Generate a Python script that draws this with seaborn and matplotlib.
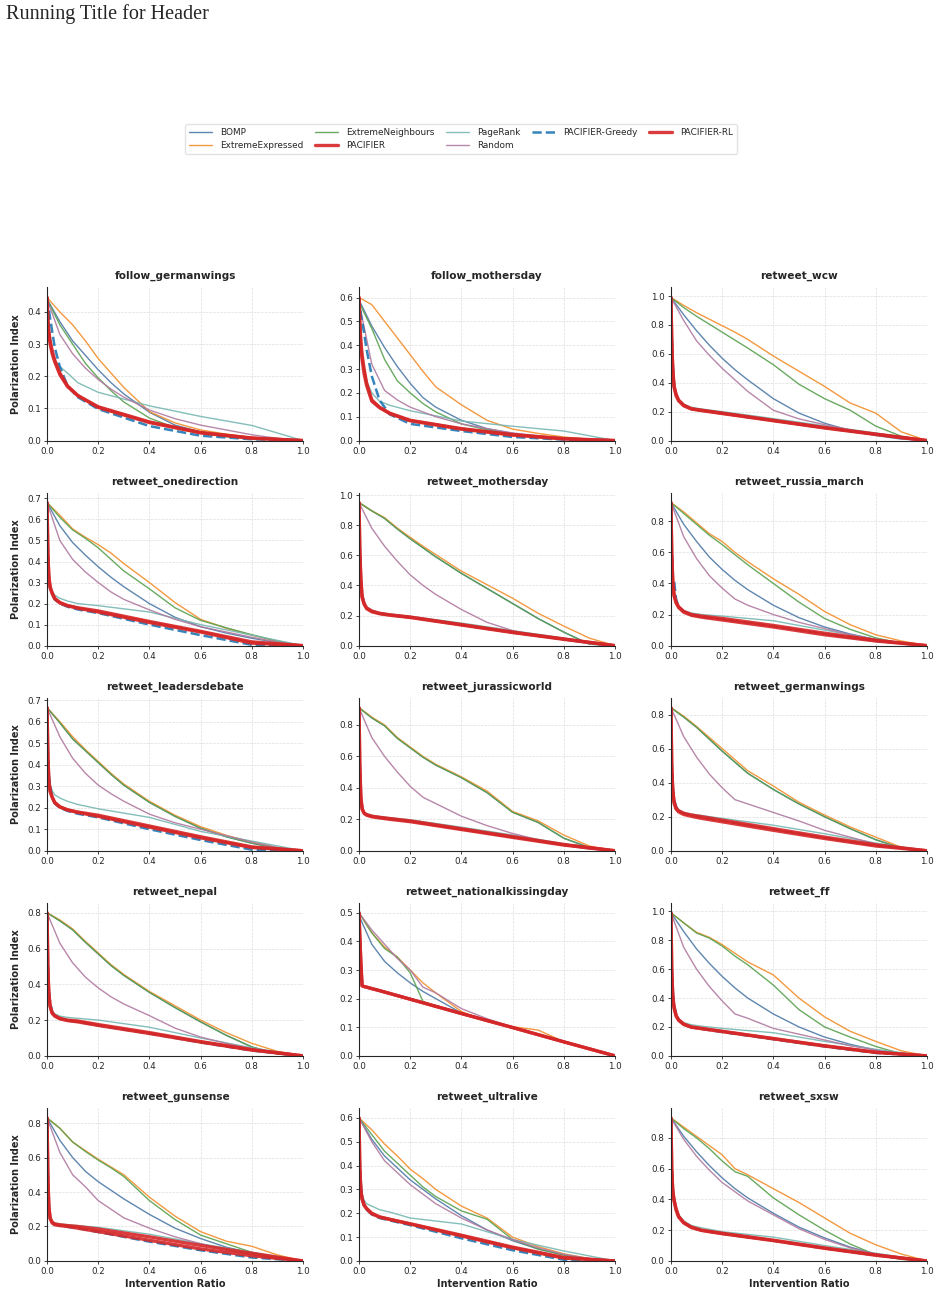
import matplotlib
matplotlib.use("Agg")
import matplotlib.pyplot as plt
import seaborn as sns

# x grids: baselines on a regular grid, PACIFIER variants / PageRank need fine steps near 0
X_BASE = [0, 0.05, 0.1, 0.15, 0.2, 0.25, 0.3, 0.4, 0.5, 0.6, 0.7, 0.8, 0.9, 1.0]
X_PAC = [0, 0.003, 0.007, 0.012, 0.02, 0.03, 0.05, 0.08, 0.12, 0.2, 0.4, 0.6, 0.8, 1.0]

DATASETS = [
    "follow_germanwings", "follow_mothersday", "retweet_wcw",
    "retweet_onedirection", "retweet_mothersday", "retweet_russia_march",
    "retweet_leadersdebate", "retweet_jurassicworld", "retweet_germanwings",
    "retweet_nepal", "retweet_nationalkissingday", "retweet_ff",
    "retweet_gunsense", "retweet_ultralive", "retweet_sxsw",
]

BOMP = [
    [0.44, 0.37, 0.31, 0.265, 0.22, 0.18, 0.145, 0.088, 0.048, 0.027, 0.015, 0.008, 0.003, 0],
    [0.59, 0.48, 0.39, 0.31, 0.24, 0.18, 0.14, 0.085, 0.05, 0.03, 0.017, 0.008, 0.003, 0],
    [0.99, 0.87, 0.76, 0.66, 0.57, 0.49, 0.42, 0.29, 0.19, 0.12, 0.07, 0.035, 0.01, 0],
    [0.68, 0.57, 0.49, 0.43, 0.375, 0.325, 0.28, 0.2, 0.135, 0.09, 0.06, 0.035, 0.015, 0],
    [0.95, 0.895, 0.845, 0.775, 0.71, 0.65, 0.59, 0.48, 0.38, 0.28, 0.18, 0.09, 0.01, 0],
    [0.92, 0.78, 0.67, 0.57, 0.49, 0.42, 0.36, 0.26, 0.18, 0.12, 0.075, 0.04, 0.015, 0],
    [0.665, 0.595, 0.52, 0.465, 0.41, 0.355, 0.305, 0.225, 0.16, 0.105, 0.065, 0.035, 0.012, 0],
    [0.91, 0.845, 0.795, 0.715, 0.655, 0.595, 0.545, 0.465, 0.37, 0.245, 0.18, 0.08, 0.02, 0],
    [0.84, 0.785, 0.725, 0.655, 0.585, 0.52, 0.455, 0.36, 0.275, 0.2, 0.13, 0.065, 0.015, 0],
    [0.80, 0.755, 0.705, 0.635, 0.57, 0.505, 0.45, 0.355, 0.27, 0.19, 0.115, 0.05, 0.01, 0],
    [0.49, 0.39, 0.33, 0.29, 0.255, 0.225, 0.2, 0.15, 0.125, 0.1, 0.075, 0.05, 0.025, 0],
    [0.99, 0.86, 0.74, 0.64, 0.55, 0.47, 0.4, 0.29, 0.2, 0.13, 0.08, 0.04, 0.012, 0],
    [0.83, 0.7, 0.6, 0.52, 0.46, 0.41, 0.36, 0.27, 0.19, 0.13, 0.08, 0.045, 0.015, 0],
    [0.6, 0.51, 0.44, 0.39, 0.34, 0.3, 0.26, 0.19, 0.13, 0.085, 0.05, 0.025, 0.008, 0],
    [0.93, 0.81, 0.71, 0.62, 0.54, 0.47, 0.41, 0.31, 0.22, 0.15, 0.09, 0.045, 0.015, 0],
]

EXTREME_EXPRESSED = [
    [0.445, 0.40, 0.36, 0.31, 0.255, 0.21, 0.165, 0.09, 0.055, 0.033, 0.02, 0.01, 0.004, 0],
    [0.6, 0.57, 0.5, 0.43, 0.36, 0.29, 0.225, 0.15, 0.085, 0.048, 0.03, 0.015, 0.005, 0],
    [0.99, 0.935, 0.885, 0.84, 0.795, 0.75, 0.70, 0.585, 0.48, 0.375, 0.26, 0.19, 0.06, 0],
    [0.68, 0.62, 0.555, 0.515, 0.48, 0.44, 0.39, 0.30, 0.205, 0.125, 0.083, 0.05, 0.02, 0],
    [0.95, 0.895, 0.85, 0.78, 0.72, 0.66, 0.605, 0.495, 0.405, 0.315, 0.215, 0.13, 0.05, 0],
    [0.92, 0.86, 0.79, 0.72, 0.67, 0.6, 0.54, 0.43, 0.33, 0.22, 0.135, 0.07, 0.03, 0],
    [0.665, 0.60, 0.53, 0.47, 0.415, 0.36, 0.31, 0.23, 0.165, 0.112, 0.072, 0.04, 0.015, 0],
    [0.91, 0.85, 0.80, 0.72, 0.66, 0.6, 0.55, 0.47, 0.38, 0.25, 0.19, 0.1, 0.03, 0],
    [0.84, 0.79, 0.73, 0.665, 0.6, 0.535, 0.47, 0.38, 0.285, 0.21, 0.14, 0.08, 0.02, 0],
    [0.80, 0.76, 0.71, 0.64, 0.575, 0.51, 0.455, 0.36, 0.28, 0.2, 0.13, 0.07, 0.025, 0],
    [0.5, 0.43, 0.38, 0.345, 0.30, 0.255, 0.22, 0.155, 0.12, 0.102, 0.09, 0.05, 0.025, 0],
    [0.99, 0.92, 0.855, 0.82, 0.77, 0.71, 0.65, 0.56, 0.40, 0.27, 0.17, 0.1, 0.035, 0],
    [0.83, 0.77, 0.69, 0.64, 0.59, 0.545, 0.5, 0.37, 0.26, 0.17, 0.115, 0.085, 0.035, 0],
    [0.6, 0.55, 0.49, 0.44, 0.385, 0.345, 0.3, 0.23, 0.18, 0.1, 0.06, 0.03, 0.01, 0],
    [0.93, 0.87, 0.81, 0.75, 0.69, 0.6, 0.56, 0.47, 0.38, 0.28, 0.18, 0.105, 0.045, 0],
]

EXTREME_NEIGHBOURS = [
    [0.44, 0.36, 0.30, 0.24, 0.195, 0.155, 0.12, 0.07, 0.04, 0.022, 0.012, 0.006, 0.002, 0],
    [0.58, 0.47, 0.34, 0.25, 0.20, 0.155, 0.12, 0.07, 0.045, 0.028, 0.015, 0.007, 0.002, 0],
    [0.99, 0.92, 0.86, 0.805, 0.75, 0.695, 0.64, 0.525, 0.39, 0.29, 0.21, 0.1, 0.03, 0],
    [0.68, 0.61, 0.55, 0.51, 0.465, 0.41, 0.355, 0.27, 0.18, 0.12, 0.085, 0.052, 0.022, 0],
    [0.95, 0.895, 0.845, 0.775, 0.71, 0.65, 0.59, 0.48, 0.38, 0.28, 0.18, 0.09, 0.01, 0],
    [0.92, 0.85, 0.78, 0.71, 0.65, 0.585, 0.52, 0.40, 0.28, 0.175, 0.105, 0.05, 0.015, 0],
    [0.665, 0.595, 0.52, 0.465, 0.41, 0.355, 0.305, 0.225, 0.16, 0.105, 0.065, 0.035, 0.012, 0],
    [0.91, 0.845, 0.795, 0.715, 0.655, 0.595, 0.545, 0.465, 0.37, 0.245, 0.18, 0.08, 0.02, 0],
    [0.84, 0.785, 0.725, 0.655, 0.585, 0.52, 0.455, 0.36, 0.275, 0.2, 0.13, 0.065, 0.015, 0],
    [0.80, 0.755, 0.705, 0.635, 0.57, 0.505, 0.45, 0.355, 0.27, 0.19, 0.115, 0.05, 0.01, 0],
    [0.5, 0.43, 0.375, 0.345, 0.29, 0.19, 0.175, 0.15, 0.125, 0.1, 0.075, 0.05, 0.025, 0],
    [0.99, 0.92, 0.85, 0.815, 0.76, 0.69, 0.63, 0.49, 0.32, 0.2, 0.13, 0.065, 0.015, 0],
    [0.83, 0.77, 0.69, 0.635, 0.585, 0.54, 0.49, 0.35, 0.24, 0.15, 0.1, 0.05, 0.015, 0],
    [0.6, 0.53, 0.46, 0.41, 0.36, 0.31, 0.27, 0.21, 0.175, 0.09, 0.05, 0.025, 0.008, 0],
    [0.93, 0.86, 0.8, 0.73, 0.65, 0.58, 0.55, 0.41, 0.3, 0.2, 0.11, 0.04, 0.01, 0],
]

RANDOM = [
    [0.44, 0.33, 0.27, 0.225, 0.19, 0.16, 0.135, 0.095, 0.068, 0.048, 0.033, 0.018, 0.007, 0],
    [0.58, 0.32, 0.21, 0.17, 0.14, 0.12, 0.1, 0.07, 0.05, 0.032, 0.02, 0.01, 0.004, 0],
    [0.99, 0.83, 0.69, 0.59, 0.5, 0.42, 0.34, 0.21, 0.15, 0.11, 0.075, 0.04, 0.012, 0],
    [0.68, 0.5, 0.41, 0.35, 0.3, 0.255, 0.22, 0.17, 0.125, 0.09, 0.065, 0.04, 0.017, 0],
    [0.95, 0.78, 0.66, 0.56, 0.47, 0.4, 0.34, 0.24, 0.155, 0.1, 0.065, 0.038, 0.013, 0],
    [0.92, 0.7, 0.56, 0.45, 0.37, 0.3, 0.26, 0.2, 0.15, 0.11, 0.07, 0.04, 0.015, 0],
    [0.665, 0.53, 0.43, 0.36, 0.305, 0.265, 0.23, 0.17, 0.13, 0.1, 0.07, 0.04, 0.015, 0],
    [0.91, 0.72, 0.6, 0.5, 0.41, 0.34, 0.3, 0.22, 0.16, 0.11, 0.07, 0.035, 0.01, 0],
    [0.84, 0.67, 0.55, 0.45, 0.37, 0.3, 0.275, 0.225, 0.175, 0.12, 0.08, 0.04, 0.012, 0],
    [0.8, 0.63, 0.52, 0.44, 0.38, 0.33, 0.29, 0.225, 0.155, 0.105, 0.07, 0.04, 0.015, 0],
    [0.5, 0.44, 0.39, 0.34, 0.3, 0.24, 0.22, 0.165, 0.13, 0.1, 0.075, 0.05, 0.025, 0],
    [0.99, 0.75, 0.6, 0.48, 0.38, 0.29, 0.26, 0.19, 0.15, 0.11, 0.07, 0.04, 0.012, 0],
    [0.83, 0.63, 0.5, 0.43, 0.35, 0.3, 0.25, 0.19, 0.14, 0.1, 0.065, 0.035, 0.012, 0],
    [0.6, 0.5, 0.42, 0.37, 0.32, 0.28, 0.24, 0.18, 0.13, 0.09, 0.055, 0.028, 0.01, 0],
    [0.93, 0.79, 0.68, 0.59, 0.51, 0.45, 0.39, 0.3, 0.21, 0.14, 0.085, 0.045, 0.015, 0],
]

PAGERANK = [
    [0.44, 0.40, 0.36, 0.32, 0.28, 0.25, 0.23, 0.21, 0.18, 0.15, 0.108, 0.075, 0.047, 0],
    [0.59, 0.5, 0.42, 0.36, 0.3, 0.25, 0.2, 0.165, 0.148, 0.125, 0.082, 0.06, 0.04, 0],
    [0.99, 0.7, 0.5, 0.38, 0.32, 0.28, 0.25, 0.23, 0.218, 0.2, 0.152, 0.102, 0.052, 0],
    [0.68, 0.45, 0.34, 0.29, 0.26, 0.24, 0.225, 0.212, 0.2, 0.19, 0.16, 0.1, 0.05, 0],
    [0.95, 0.65, 0.45, 0.33, 0.28, 0.255, 0.235, 0.22, 0.21, 0.195, 0.15, 0.1, 0.05, 0],
    [0.92, 0.6, 0.42, 0.33, 0.28, 0.25, 0.225, 0.21, 0.2, 0.19, 0.16, 0.1, 0.04, 0],
    [0.665, 0.46, 0.36, 0.31, 0.28, 0.26, 0.245, 0.23, 0.215, 0.195, 0.155, 0.09, 0.045, 0],
    [0.91, 0.55, 0.35, 0.28, 0.245, 0.235, 0.225, 0.218, 0.21, 0.197, 0.15, 0.1, 0.045, 0],
    [0.84, 0.5, 0.36, 0.29, 0.255, 0.24, 0.225, 0.215, 0.207, 0.19, 0.15, 0.1, 0.045, 0],
    [0.80, 0.5, 0.35, 0.285, 0.25, 0.235, 0.222, 0.215, 0.21, 0.2, 0.16, 0.1, 0.045, 0],
    [0.5, 0.42, 0.33, 0.25, 0.245, 0.242, 0.237, 0.23, 0.22, 0.2, 0.15, 0.1, 0.05, 0],
    [0.99, 0.6, 0.42, 0.34, 0.285, 0.255, 0.23, 0.215, 0.205, 0.19, 0.16, 0.1, 0.045, 0],
    [0.83, 0.5, 0.32, 0.255, 0.23, 0.22, 0.215, 0.21, 0.205, 0.195, 0.155, 0.1, 0.05, 0],
    [0.6, 0.42, 0.32, 0.28, 0.255, 0.24, 0.23, 0.215, 0.205, 0.18, 0.155, 0.09, 0.042, 0],
    [0.93, 0.6, 0.47, 0.41, 0.35, 0.3, 0.26, 0.23, 0.215, 0.19, 0.155, 0.1, 0.05, 0],
]

PACIFIER = [
    [0.445, 0.38, 0.34, 0.31, 0.28, 0.25, 0.21, 0.17, 0.14, 0.105, 0.058, 0.025, 0.008, 0],
    [0.6, 0.5, 0.42, 0.36, 0.3, 0.24, 0.17, 0.14, 0.115, 0.085, 0.05, 0.025, 0.008, 0],
    [0.99, 0.7, 0.5, 0.38, 0.32, 0.28, 0.245, 0.22, 0.21, 0.19, 0.14, 0.09, 0.045, 0],
    [0.68, 0.45, 0.33, 0.28, 0.25, 0.225, 0.205, 0.19, 0.178, 0.16, 0.11, 0.065, 0.012, 0],
    [0.95, 0.65, 0.45, 0.33, 0.28, 0.25, 0.23, 0.215, 0.205, 0.19, 0.14, 0.09, 0.045, 0],
    [0.92, 0.6, 0.42, 0.33, 0.28, 0.25, 0.22, 0.2, 0.19, 0.175, 0.13, 0.08, 0.035, 0],
    [0.665, 0.45, 0.33, 0.28, 0.25, 0.225, 0.205, 0.19, 0.178, 0.16, 0.11, 0.06, 0.015, 0],
    [0.91, 0.55, 0.35, 0.27, 0.24, 0.23, 0.22, 0.213, 0.205, 0.19, 0.14, 0.09, 0.04, 0],
    [0.84, 0.5, 0.36, 0.29, 0.25, 0.235, 0.22, 0.21, 0.2, 0.18, 0.13, 0.08, 0.035, 0],
    [0.8, 0.5, 0.35, 0.28, 0.24, 0.225, 0.21, 0.2, 0.195, 0.175, 0.13, 0.08, 0.035, 0],
    [0.5, 0.42, 0.33, 0.245, 0.242, 0.24, 0.235, 0.228, 0.218, 0.198, 0.148, 0.099, 0.049, 0],
    [0.99, 0.6, 0.42, 0.34, 0.28, 0.25, 0.22, 0.2, 0.19, 0.17, 0.12, 0.07, 0.025, 0],
    [0.83, 0.5, 0.32, 0.25, 0.225, 0.215, 0.21, 0.205, 0.2, 0.185, 0.14, 0.09, 0.045, 0],
    [0.6, 0.4, 0.3, 0.26, 0.235, 0.22, 0.2, 0.185, 0.175, 0.155, 0.105, 0.055, 0.012, 0],
    [0.93, 0.6, 0.46, 0.4, 0.34, 0.29, 0.25, 0.22, 0.2, 0.18, 0.135, 0.085, 0.04, 0],
]

PACIFIER_GREEDY = [
    [0.445, 0.43, 0.41, 0.38, 0.34, 0.29, 0.23, 0.17, 0.135, 0.098, 0.045, 0.015, 0.004, 0],
    [0.6, 0.57, 0.53, 0.5, 0.45, 0.38, 0.27, 0.17, 0.11, 0.07, 0.04, 0.015, 0.004, 0],
    [0.99, 0.72, 0.52, 0.39, 0.32, 0.28, 0.245, 0.22, 0.208, 0.188, 0.138, 0.088, 0.043, 0],
    [0.68, 0.47, 0.34, 0.28, 0.245, 0.22, 0.2, 0.185, 0.172, 0.155, 0.1, 0.05, 0.004, 0],
    [0.95, 0.66, 0.46, 0.34, 0.28, 0.25, 0.228, 0.213, 0.203, 0.188, 0.138, 0.088, 0.043, 0],
    [0.92, 0.62, 0.44, 0.42, 0.3, 0.25, 0.218, 0.198, 0.186, 0.17, 0.125, 0.075, 0.03, 0],
    [0.665, 0.47, 0.35, 0.3, 0.25, 0.22, 0.2, 0.185, 0.172, 0.155, 0.1, 0.05, 0.005, 0],
    [0.91, 0.56, 0.36, 0.27, 0.24, 0.228, 0.218, 0.21, 0.202, 0.187, 0.137, 0.087, 0.038, 0],
    [0.84, 0.52, 0.37, 0.3, 0.26, 0.235, 0.218, 0.207, 0.196, 0.176, 0.126, 0.076, 0.03, 0],
    [0.8, 0.52, 0.37, 0.3, 0.245, 0.225, 0.208, 0.198, 0.19, 0.17, 0.125, 0.075, 0.03, 0],
    [0.5, 0.42, 0.33, 0.245, 0.242, 0.24, 0.235, 0.228, 0.218, 0.198, 0.148, 0.099, 0.049, 0],
    [0.99, 0.62, 0.44, 0.35, 0.29, 0.25, 0.218, 0.197, 0.186, 0.165, 0.115, 0.065, 0.02, 0],
    [0.83, 0.52, 0.33, 0.25, 0.222, 0.212, 0.205, 0.198, 0.19, 0.168, 0.112, 0.062, 0.02, 0],
    [0.6, 0.42, 0.32, 0.27, 0.235, 0.215, 0.195, 0.18, 0.17, 0.15, 0.095, 0.045, 0.005, 0],
    [0.93, 0.62, 0.47, 0.4, 0.34, 0.29, 0.248, 0.218, 0.198, 0.177, 0.132, 0.082, 0.037, 0],
]

PACIFIER_RL = [
    [0.445, 0.37, 0.33, 0.30, 0.27, 0.245, 0.205, 0.168, 0.14, 0.103, 0.056, 0.024, 0.007, 0],
    [0.6, 0.48, 0.4, 0.34, 0.28, 0.23, 0.165, 0.138, 0.113, 0.083, 0.048, 0.023, 0.007, 0],
    [0.99, 0.68, 0.48, 0.37, 0.31, 0.275, 0.24, 0.218, 0.207, 0.187, 0.137, 0.087, 0.042, 0],
    [0.68, 0.44, 0.32, 0.275, 0.248, 0.223, 0.203, 0.19, 0.18, 0.165, 0.115, 0.068, 0.018, 0],
    [0.95, 0.63, 0.44, 0.32, 0.275, 0.245, 0.225, 0.212, 0.202, 0.187, 0.137, 0.087, 0.042, 0],
    [0.92, 0.58, 0.41, 0.32, 0.275, 0.245, 0.215, 0.195, 0.183, 0.165, 0.12, 0.07, 0.03, 0],
    [0.665, 0.44, 0.32, 0.275, 0.248, 0.223, 0.203, 0.19, 0.18, 0.165, 0.115, 0.065, 0.018, 0],
    [0.91, 0.54, 0.34, 0.265, 0.237, 0.226, 0.216, 0.209, 0.2, 0.185, 0.135, 0.085, 0.036, 0],
    [0.84, 0.49, 0.35, 0.28, 0.245, 0.228, 0.213, 0.202, 0.19, 0.17, 0.12, 0.072, 0.028, 0],
    [0.8, 0.49, 0.34, 0.275, 0.238, 0.222, 0.207, 0.197, 0.19, 0.17, 0.125, 0.077, 0.032, 0],
    [0.5, 0.42, 0.33, 0.245, 0.242, 0.24, 0.235, 0.228, 0.218, 0.198, 0.148, 0.099, 0.049, 0],
    [0.99, 0.58, 0.41, 0.33, 0.275, 0.245, 0.217, 0.198, 0.188, 0.168, 0.118, 0.068, 0.024, 0],
    [0.83, 0.49, 0.31, 0.245, 0.22, 0.21, 0.205, 0.2, 0.19, 0.17, 0.12, 0.07, 0.03, 0],
    [0.6, 0.39, 0.3, 0.26, 0.233, 0.218, 0.198, 0.184, 0.174, 0.156, 0.108, 0.058, 0.015, 0],
    [0.93, 0.59, 0.45, 0.39, 0.33, 0.285, 0.247, 0.217, 0.198, 0.177, 0.132, 0.082, 0.037, 0],
]

# (label, data, x grid, colour, linewidth, linestyle) in drawing order
SERIES = [
    ("BOMP", BOMP, X_BASE, "#4e79a7", 1.0, "-"),
    ("ExtremeExpressed", EXTREME_EXPRESSED, X_BASE, "#f28e2b", 1.0, "-"),
    ("ExtremeNeighbours", EXTREME_NEIGHBOURS, X_BASE, "#59a14f", 1.0, "-"),
    ("PageRank", PAGERANK, X_PAC, "#76b7b2", 1.0, "-"),
    ("Random", RANDOM, X_BASE, "#b07aa1", 1.0, "-"),
    ("PACIFIER-Greedy", PACIFIER_GREEDY, X_PAC, "#1f77b4", 1.8, "--"),
    ("PACIFIER", PACIFIER, X_PAC, "#d62728", 2.4, "-"),
    ("PACIFIER-RL", PACIFIER_RL, X_PAC, "#d62728", 2.4, "-"),
]
LEGEND_ORDER = ["BOMP", "ExtremeExpressed", "ExtremeNeighbours", "PACIFIER",
                "PageRank", "Random", "PACIFIER-Greedy", "PACIFIER-RL"]

sns.set_style("ticks")
plt.rcParams["font.family"] = ["DejaVu Sans"]

fig, axes = plt.subplots(5, 3, figsize=(9.41, 12.95), dpi=100)
fig.subplots_adjust(left=0.05, right=0.985, bottom=0.0263, top=0.778,
                    wspace=0.219, hspace=0.34)

handles = {}
for i, name in enumerate(DATASETS):
    ax = axes.flat[i]
    for label, data, xs, color, lw, ls in SERIES:
        sns.lineplot(x=xs, y=data[i], ax=ax, color=color, linewidth=lw,
                     linestyle=ls, alpha=0.9, label=label, legend=False)
        if i == 0:
            handles[label] = ax.get_lines()[-1]
    top = max(max(d[i]) for _, d, _, _, _, _ in SERIES)
    ax.set_xlim(0, 1)
    ax.set_ylim(0, top * 1.07)
    ax.set_xticks([0, 0.2, 0.4, 0.6, 0.8, 1.0])
    ax.grid(True, linestyle="--", linewidth=0.5, color="#dddddd")
    ax.set_axisbelow(True)
    ax.tick_params(labelsize=6.3, length=2.5, width=0.6, pad=2)
    for sp in ax.spines.values():
        sp.set_linewidth(0.8)
    sns.despine(ax=ax)
    ax.set_title(name, fontsize=7.6, fontweight="bold", pad=6)
    ax.set_xlabel("Intervention Ratio" if i >= 12 else "", fontsize=7,
                  fontweight="bold", labelpad=2)
    ax.set_ylabel("Polarization Index" if i % 3 == 0 else "", fontsize=7,
                  fontweight="bold", labelpad=4)

fig.legend([handles[k] for k in LEGEND_ORDER], LEGEND_ORDER, loc="center",
           bbox_to_anchor=(0.49, 0.8925), ncol=5, fontsize=6.4, frameon=True,
           handlelength=2.6, handletextpad=0.9, columnspacing=1.3,
           labelspacing=0.4, borderpad=0.45, edgecolor="#dddddd",
           fancybox=True)

fig.text(0.006, 0.989, "Running Title for Header", fontsize=14.5,
         family=["Liberation Serif", "DejaVu Serif"], va="center", ha="left")

fig.savefig("out.png", dpi=100)
